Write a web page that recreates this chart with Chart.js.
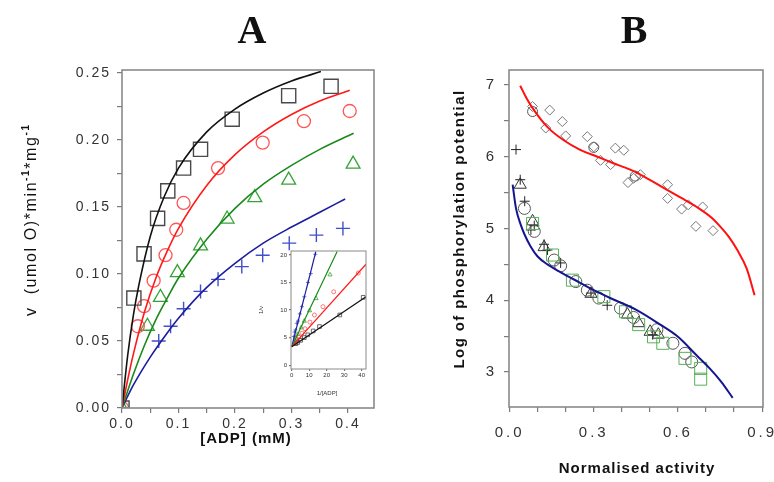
<!DOCTYPE html>
<html>
<head>
<meta charset="utf-8">
<script src="https://cdn.jsdelivr.net/npm/chart.js@4.4.0/dist/chart.umd.min.js"></script>
<style>
  html, body { margin: 0; padding: 0; background: #fff; overflow: hidden; }
  #wrap { position: relative; width: 774px; height: 482px; overflow: hidden; }
  canvas { position: absolute; }
</style>
</head>
<body>
<div id="wrap">
  <canvas id="chartA" width="395" height="482" style="left:0px;top:0px;width:395px;height:482px"></canvas>
  <canvas id="chartB" width="400" height="482" style="left:390px;top:0px;width:400px;height:482px"></canvas>
  <canvas id="inset" width="120" height="160" style="left:255px;top:240px;width:120px;height:160px"></canvas>
</div>
<script>
// ---- Panel A: rate vs [ADP], fitted curves ----
const blackCurveX = [0, 0.01, 0.02, 0.03, 0.05, 0.075, 0.1, 0.15, 0.2, 0.25, 0.3, 0.352];
const blackCurveY = [0, 0.039, 0.069, 0.092, 0.128, 0.158, 0.179, 0.206, 0.223, 0.235, 0.244, 0.251];
const redCurveX = [0, 0.01, 0.02, 0.04, 0.06, 0.08, 0.1, 0.15, 0.2, 0.25, 0.3, 0.35, 0.403];
const redCurveY = [0, 0.021, 0.040, 0.072, 0.097, 0.117, 0.134, 0.166, 0.189, 0.206, 0.219, 0.229, 0.237];
const greenCurveX = [0, 0.02, 0.04, 0.06, 0.08, 0.1, 0.15, 0.2, 0.25, 0.3, 0.35, 0.41];
const greenCurveY = [0, 0.025, 0.047, 0.066, 0.082, 0.097, 0.126, 0.149, 0.167, 0.181, 0.193, 0.205];
const blueCurveX = [0, 0.02, 0.05, 0.08, 0.1, 0.15, 0.2, 0.25, 0.3, 0.35, 0.395];
const blueCurveY = [0, 0.017, 0.038, 0.056, 0.067, 0.090, 0.108, 0.123, 0.135, 0.146, 0.156];

// Panel A: measured points
const squareAX = [0, 0.021, 0.039, 0.063, 0.081, 0.109, 0.139, 0.195, 0.295, 0.37];
const squareAY = [0, 0.082, 0.115, 0.1415, 0.162, 0.179, 0.193, 0.2155, 0.233, 0.240];
const circleAX = [0, 0.028, 0.039, 0.056, 0.077, 0.096, 0.109, 0.170, 0.249, 0.322, 0.403];
const circleAY = [0, 0.061, 0.076, 0.095, 0.114, 0.133, 0.153, 0.179, 0.198, 0.214, 0.2216];
const triangleAX = [0, 0.045, 0.068, 0.098, 0.139, 0.186, 0.235, 0.295, 0.409];
const triangleAY = [0, 0.061, 0.0825, 0.101, 0.121, 0.141, 0.157, 0.170, 0.182];
const crossAX = [0, 0.065, 0.086, 0.109, 0.139, 0.170, 0.212, 0.249, 0.296, 0.344, 0.391];
const crossAY = [0, 0.050, 0.061, 0.074, 0.087, 0.096, 0.1055, 0.114, 0.123, 0.129, 0.134];

// ---- Inset: double reciprocal plot ----
const insetBlackLineX = [0, 42.5], insetBlackLineY = [3.33, 12.4];
const insetRedLineX = [0, 42.5], insetRedLineY = [3.33, 18.3];
const insetGreenLineX = [0, 26.0], insetGreenLineY = [3.33, 20.6];
const insetBlueLineX = [0, 13.8], insetBlueLineY = [3.33, 20.6];
const insetBlackX = [2.4, 3.4, 5.1, 7.2, 9.2, 12.3, 15.9, 27.5, 40.9];
const insetBlackY = [3.9, 4.1, 4.5, 5.0, 5.5, 6.2, 7.0, 9.1, 12.3];
const insetRedX = [2.5, 3.1, 4.1, 5.9, 7.6, 10.4, 13.0, 17.9, 24.0, 38.1];
const insetRedY = [4.4, 4.7, 5.1, 5.8, 6.6, 7.8, 9.1, 10.6, 13.3, 16.7];
const insetGreenX = [2.4, 3.4, 5.4, 7.2, 10.2, 13.9, 21.9];
const insetGreenY = [4.9, 5.6, 6.8, 8.0, 9.9, 12.1, 16.4];
const insetBlueX = [1.2, 1.6, 2.2, 2.9, 3.6, 4.6, 5.8, 7.2, 9.3, 10.9, 13.5];
const insetBlueY = [5.2, 6.0, 6.4, 7.6, 8.0, 9.3, 10.6, 12.4, 15.0, 16.6, 20.1];

// ---- Panel B: log phosphorylation potential vs normalised activity ----
const redFitX = [0.038, 0.06, 0.087, 0.136, 0.193, 0.25, 0.313, 0.37, 0.43, 0.49, 0.547, 0.61, 0.667, 0.72, 0.75, 0.78, 0.81, 0.845, 0.873];
const redFitY = [6.99, 6.82, 6.65, 6.41, 6.23, 6.10, 6.00, 5.91, 5.82, 5.70, 5.57, 5.43, 5.30, 5.15, 5.03, 4.89, 4.71, 4.44, 4.07];
const blueFitX = [0.011, 0.023, 0.04, 0.053, 0.075, 0.1, 0.135, 0.182, 0.253, 0.30, 0.37, 0.45, 0.537, 0.60, 0.667, 0.713, 0.755, 0.795];
const blueFitY = [5.61, 5.28, 5.05, 4.92, 4.75, 4.61, 4.50, 4.39, 4.24, 4.14, 4.01, 3.87, 3.66, 3.49, 3.23, 3.05, 2.86, 2.64];

const diamondX = [0.082, 0.143, 0.129, 0.188, 0.200, 0.277, 0.300, 0.324, 0.360, 0.377, 0.407, 0.422, 0.442, 0.466, 0.563, 0.563, 0.613, 0.637, 0.664, 0.688, 0.725];
const diamondY = [6.70, 6.65, 6.40, 6.49, 6.29, 6.28, 6.14, 5.95, 5.89, 6.12, 6.09, 5.64, 5.70, 5.75, 5.61, 5.42, 5.27, 5.33, 5.03, 5.30, 4.97];
const upperCircleX = [0.082, 0.300, 0.448];
const upperCircleY = [6.63, 6.13, 5.73];
const plusX = [0.023, 0.038, 0.054, 0.076, 0.088, 0.123, 0.135, 0.182, 0.290, 0.348, 0.510];
const plusY = [6.10, 5.68, 5.38, 4.98, 5.04, 4.78, 4.70, 4.52, 4.10, 3.93, 3.52];
const triangleBX = [0.038, 0.082, 0.123, 0.290, 0.420, 0.460, 0.501, 0.530];
const triangleBY = [5.61, 5.10, 4.74, 4.09, 3.80, 3.68, 3.56, 3.52];
const circleBX = [0.053, 0.088, 0.159, 0.182, 0.236, 0.277, 0.318, 0.395, 0.442, 0.525, 0.582, 0.625, 0.649];
const circleBY = [5.28, 4.96, 4.56, 4.48, 4.26, 4.14, 4.03, 3.89, 3.76, 3.59, 3.40, 3.26, 3.14];
const squareBX = [0.082, 0.153, 0.224, 0.336, 0.413, 0.460, 0.513, 0.546, 0.625, 0.681, 0.681];
const squareBY = [5.07, 4.63, 4.28, 4.05, 3.84, 3.66, 3.49, 3.40, 3.19, 3.05, 2.90];

const SANS = '"Liberation Sans", Arial, sans-serif';
Chart.defaults.font.family = SANS;

const pts = (xs, ys) => xs.map((x, i) => ({ x: x, y: ys[i] }));
const isStep = (v, step) => Math.abs(v / step - Math.round(v / step)) < 1e-6;

function curve(xs, ys, color, width) {
  return {
    data: pts(xs, ys), showLine: true, pointRadius: 0, borderColor: color,
    borderWidth: width || 1.6, cubicInterpolationMode: 'monotone', order: 1
  };
}
function marks(xs, ys, style, r, color, width) {
  return {
    data: pts(xs, ys), showLine: false, pointStyle: style, pointRadius: r,
    borderColor: color, backgroundColor: 'rgba(0,0,0,0)', pointBorderWidth: width || 1.2, order: 2
  };
}
function axis(min, max, step, every, digits, opts) {
  return {
    type: 'linear', min: min, max: max,
    afterFit: s => { if (opts.w) s.width = opts.w; if (opts.h) s.height = opts.h; },
    border: { display: false },
    grid: { drawOnChartArea: false, tickLength: opts.tick, color: '#7a7a7a', lineWidth: 1.2 },
    ticks: {
      stepSize: step, includeBounds: false, autoSkip: false, maxRotation: 0,
      padding: opts.pad, color: '#333', font: { size: opts.size },
      callback: v => isStep(v, every) ? v.toFixed(digits) : ''
    }
  };
}

// frame around plot area + letter spacing for tick labels
function frame(spacing, lw) {
  return {
    id: 'frame',
    beforeUpdate(chart) { chart.ctx.letterSpacing = spacing + 'px'; },
    beforeDraw(chart) { chart.ctx.letterSpacing = spacing + 'px'; },
    afterDraw(chart) {
      const a = chart.chartArea, ctx = chart.ctx;
      ctx.save();
      ctx.strokeStyle = '#8a8a8a';
      ctx.lineWidth = lw;
      ctx.strokeRect(a.left, a.top, a.right - a.left, a.bottom - a.top);
      ctx.restore();
    }
  };
}
function labels(draw) {
  return { id: 'labels', afterDraw(chart) { const ctx = chart.ctx; ctx.save(); draw(ctx); ctx.restore(); } };
}

const baseOptions = {
  responsive: false, animation: false, events: [],
  plugins: { legend: { display: false }, tooltip: { enabled: false } }
};

// ---- chart A ----
new Chart(document.getElementById('chartA'), {
  type: 'scatter',
  data: {
    datasets: [
      curve(blackCurveX, blackCurveY, '#111'),
      curve(redCurveX, redCurveY, '#ff1a1a'),
      curve(greenCurveX, greenCurveY, '#1b8a1b'),
      curve(blueCurveX, blueCurveY, '#1c1ca0'),
      marks(squareAX, squareAY, 'rect', 10, '#4a4a4a', 1.4),
      marks(circleAX, circleAY, 'circle', 6.5, '#ff5555', 1.3),
      marks(triangleAX, triangleAY, 'triangle', 8, '#36a336', 1.3),
      marks(crossAX, crossAY, 'cross', 7, '#4150c8', 1.4)
    ]
  },
  options: Object.assign({}, baseOptions, {
    layout: { padding: { left: 62, right: 21, top: 70, bottom: 34 } },
    scales: {
      x: axis(0, 0.446, 0.05, 0.1, 1, { h: 40, tick: 5, pad: 3, size: 14 }),
      y: axis(0, 0.2522, 0.025, 0.05, 2, { w: 60, tick: 5, pad: 6, size: 14 })
    }
  }),
  plugins: [frame(2, 1.6), labels(ctx => {
    ctx.fillStyle = '#111';
    ctx.textAlign = 'center';
    ctx.letterSpacing = '0px';
    ctx.font = 'bold 40px "Liberation Serif", serif';
    ctx.fillText('A', 252, 43);
    ctx.letterSpacing = '1px';
    ctx.font = 'bold 15px ' + SANS;
    ctx.fillText('[ADP] (mM)', 246, 443);
    // rotated y title with superscripts
    ctx.translate(36, 316);
    ctx.rotate(-Math.PI / 2);
    ctx.textAlign = 'left';
    ctx.letterSpacing = '1.6px';
    let x = 0;
    const seg = (t, font, dy) => { ctx.font = font; ctx.fillText(t, x, dy); x += ctx.measureText(t).width; };
    seg('v  (umol O)*min', '16px ' + SANS, 0);
    seg('-1', 'bold 10px ' + SANS, -7);
    seg('*mg', '16px ' + SANS, 0);
    seg('-1', 'bold 10px ' + SANS, -7);
  })]
});

// ---- inset ----
new Chart(document.getElementById('inset'), {
  type: 'scatter',
  data: {
    datasets: [
      curve(insetBlackLineX, insetBlackLineY, '#111', 1.2),
      curve(insetRedLineX, insetRedLineY, '#ff1a1a', 1.2),
      curve(insetGreenLineX, insetGreenLineY, '#1b8a1b', 1.2),
      curve(insetBlueLineX, insetBlueLineY, '#1c1ca0', 1.2),
      marks(insetBlackX, insetBlackY, 'rect', 2.6, '#444', 0.8),
      marks(insetRedX, insetRedY, 'circle', 2, '#ff5555', 0.8),
      marks(insetGreenX, insetGreenY, 'triangle', 2.4, '#36a336', 0.8),
      marks(insetBlueX, insetBlueY, 'cross', 2, '#4150c8', 0.8)
    ]
  },
  options: Object.assign({}, baseOptions, {
    layout: { padding: { left: 16, right: 9, top: 11, bottom: 19 } },
    scales: {
      x: axis(-0.4, 42.5, 10, 10, 0, { h: 12, tick: 2, pad: 1, size: 6 }),
      y: axis(-0.7, 20.7, 5, 5, 0, { w: 20, tick: 2, pad: 2, size: 6 })
    }
  }),
  plugins: [frame(0, 1), labels(ctx => {
    ctx.fillStyle = '#333';
    ctx.textAlign = 'center';
    ctx.font = '6px ' + SANS;
    ctx.fillText('1/[ADP]', 72, 155);
    ctx.translate(8, 70);
    ctx.rotate(-Math.PI / 2);
    ctx.fillText('1/v', 0, 0);
  })]
});

// ---- chart B ----
new Chart(document.getElementById('chartB'), {
  type: 'scatter',
  data: {
    datasets: [
      curve(redFitX, redFitY, '#ff1010', 2),
      curve(blueFitX, blueFitY, '#15158f', 2),
      marks(diamondX, diamondY, 'rectRot', 5, '#777', 1),
      marks(upperCircleX, upperCircleY, 'circle', 5, '#555', 1),
      marks(squareBX, squareBY, 'rect', 8.5, '#58b058', 1),
      marks(circleBX, circleBY, 'circle', 6, '#555', 1),
      marks(triangleBX, triangleBY, 'triangle', 7, '#333', 1),
      marks(plusX, plusY, 'cross', 5, '#222', 1)
    ]
  },
  options: Object.assign({}, baseOptions, {
    layout: { padding: { left: 69, right: 27, top: 70, bottom: 35 } },
    scales: {
      x: axis(-0.002, 0.903, 0.1, 0.3, 1, { h: 40, tick: 5, pad: 12, size: 15 }),
      y: axis(2.512, 7.209, 0.5, 1, 0, { w: 50, tick: 5, pad: 7, size: 15 })
    }
  }),
  plugins: [frame(3, 1.6), labels(ctx => {
    ctx.fillStyle = '#111';
    ctx.textAlign = 'center';
    ctx.letterSpacing = '0px';
    ctx.font = 'bold 40px "Liberation Serif", serif';
    ctx.fillText('B', 244, 43);
    ctx.letterSpacing = '1px';
    ctx.font = 'bold 15px ' + SANS;
    ctx.fillText('Normalised activity', 247, 473);
    ctx.letterSpacing = '1.4px';
    ctx.translate(74, 229);
    ctx.rotate(-Math.PI / 2);
    ctx.fillText('Log of phosphorylation potential', 0, 0);
  })]
});
</script>
</body>
</html>
